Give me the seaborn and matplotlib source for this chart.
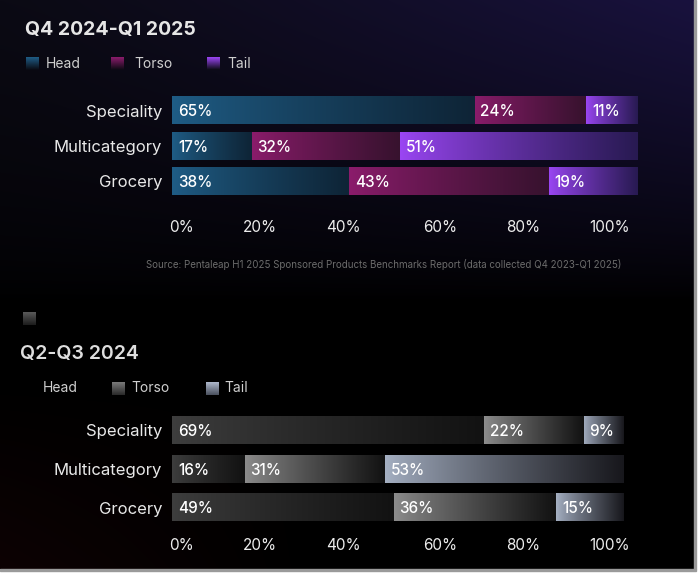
import numpy as np
import pandas as pd
import matplotlib
matplotlib.use("Agg")
import matplotlib.pyplot as plt
import seaborn as sns
from matplotlib.colors import to_rgb
from matplotlib.patches import Rectangle

# ---------------- data ----------------
categories = ["Speciality", "Multicategory", "Grocery"]
segments = ["Head", "Torso", "Tail"]
recent_head = [65, 17, 38]
recent_torso = [24, 32, 43]
recent_tail = [11, 51, 19]
prior_head = [69, 16, 49]
prior_torso = [22, 31, 36]
prior_tail = [9, 53, 15]
tick_labels = ["0%", "20%", "40%", "60%", "80%", "100%"]
title_recent = "Q4 2024-Q1 2025"
title_prior = "Q2-Q3 2024"
source_note = ("Source: Pentaleap H1 2025 Sponsored Products Benchmarks Report "
               "(data collected Q4 2023-Q1 2025)")

# ---------------- style ----------------
W, H = 698, 574
sns.set_theme(style="white")
plt.rcParams['font.family'] = ['Inter', 'DejaVu Sans']

recent_grads = [("#1f5d86", "#0e2436"), ("#8c1c6c", "#37122e"), ("#9b46f4", "#281a52")]
prior_grads = [("#3e3e3e", "#121212"), ("#8e8e8e", "#121212"), ("#a6b1c4", "#17171c")]

fig = plt.figure(figsize=(W / 100, H / 100), dpi=100)
fig.patch.set_facecolor("white")

# background panel with soft glows
bw, bh = 694, 569
xx = np.linspace(0, 1, bw)[None, :]
yp = np.arange(bh)[:, None].astype(float)
top = np.clip(1 - yp / 300.0, 0, 1)
base = np.array([11, 10, 20]) / 255
purple = np.array([14, 8, 42]) / 255
red = np.array([13, 2, 3]) / 255
img = (base[None, None, :] * (top ** 0.6)[..., None]
       + purple[None, None, :] * ((xx ** 1.2) * top ** 0.9)[..., None]
       + red[None, None, :] * (np.clip(1 - xx * 2.2, 0, 1) * np.clip((yp - 380) / 189, 0, 1))[..., None])
img = np.clip(img, 0, 1)
bg = fig.add_axes([0, (H - bh) / H, bw / W, bh / H], zorder=-10)
bg.imshow(img, aspect="auto", interpolation="bilinear")
bg.axis("off")
fig.patches.append(Rectangle((bw / W, (H - bh) / H), 2 / W, bh / H, transform=fig.transFigure,
                             color="#9a9a9a", zorder=-5))
fig.patches.append(Rectangle((0, (H - bh - 2) / H), (bw + 2) / W, 2 / H, transform=fig.transFigure,
                             color="#9a9a9a", zorder=-5))

# overlay for titles / legends in pixel coords
ov = fig.add_axes([0, 0, 1, 1], zorder=5)
ov.set_xlim(0, W)
ov.set_ylim(H, 0)
ov.axis("off")
ov.patch.set_alpha(0)


def hgrad(c0, c1, n=256, power=0.85):
    g = np.linspace(0, 1, n) ** power
    a, b = np.array(to_rgb(c0)), np.array(to_rgb(c1))
    return (a[None, :] * (1 - g[:, None]) + b[None, :] * g[:, None])[None, :, :]


def vswatch(ax, x0, y0, size, c0, c1):
    arr = np.transpose(hgrad(c0, c1, 64, 1.0), (1, 0, 2))
    ax.imshow(arr, extent=[x0, x0 + size, y0 + size, y0], aspect="auto",
              interpolation="bilinear", zorder=6)


def draw_stacked(ax, values, grads, bar_w, xpad, px_per_unit):
    vals = np.array(values, dtype=float)
    cums = np.cumsum(vals, axis=0)
    order = list(reversed(range(len(values))))
    for k in order:
        sns.barplot(x=cums[k], y=categories, orient="h", ax=ax, width=bar_w,
                    color=grads[k][1], saturation=1, linewidth=0)
    patches = list(ax.patches)
    for idx, k in enumerate(order):
        for p in patches[idx * len(categories):(idx + 1) * len(categories)]:
            i = int(round(p.get_y() + p.get_height() / 2))
            left = cums[k - 1][i] if k > 0 else 0.0
            right = cums[k][i]
            y0, h = p.get_y(), p.get_height()
            ax.imshow(hgrad(*grads[k]), extent=[left, right, y0 + h, y0], aspect="auto",
                      interpolation="bilinear", zorder=3)
            ax.text(left + 6 / px_per_unit, i + 0.03, f"{int(vals[k][i])}%", ha="left",
                    va="center", color="white", fontsize=11, fontweight="medium", zorder=4)
    ax.set_xlim(0, 100)
    ax.set_ylim(len(categories) - 0.5, -0.5)
    tick_px = [182, 260, 343, 440, 523, 610]
    ax.set_xticks([(tp - 172) / px_per_unit for tp in tick_px])
    ax.set_xticklabels(tick_labels, color="#ececec", fontsize=11)
    ax.tick_params(axis="x", length=0, pad=xpad)
    ax.set_yticks(range(len(categories)))
    ax.set_yticklabels(categories, color="#e8e8e8", fontsize=12)
    ax.tick_params(axis="y", length=0, pad=7)
    ax.set_xlabel("")
    ax.set_ylabel("")
    ax.patch.set_alpha(0)
    ax.grid(False)
    for s in ax.spines.values():
        s.set_visible(False)


# ---------------- top chart ----------------
ax1 = fig.add_axes([172 / W, 1 - 199 / H, 465 / W, 106 / H])
draw_stacked(ax1, [recent_head, recent_torso, recent_tail], recent_grads, 0.77, 15, 4.65)

ov.text(25, 35, title_recent, color="#e6e6e6", fontsize=14, fontweight="bold", va="baseline")
leg_top = [(26, 46), (111, 134), (207, 227)]
for (sx, tx), name, (c0, c1) in zip(leg_top, segments, recent_grads):
    vswatch(ov, sx, 57, 13, c0, "#0a0a12")
    ov.text(tx, 68, name, color="#cfcfcf", fontsize=10, va="baseline")
ov.text(146, 268, source_note, color="#6c6c6c", fontsize=7, va="baseline")

# ---------------- bottom chart ----------------
ax2 = fig.add_axes([172 / W, 1 - 527 / H, 452 / W, 116 / H])
draw_stacked(ax2, [prior_head, prior_torso, prior_tail], prior_grads, 0.70, 8, 4.52)

vswatch(ov, 23, 313, 12.5, "#5a5a5a", "#1c1c1c")
ov.text(20, 359, title_prior, color="#dedede", fontsize=14, fontweight="semibold", va="baseline")
ov.text(43, 392, segments[0], color="#cfcfcf", fontsize=10, va="baseline")
vswatch(ov, 112, 382, 13, "#7a7a7a", "#2a2a2a")
ov.text(131, 392, segments[1], color="#cfcfcf", fontsize=10, va="baseline")
vswatch(ov, 206, 382, 13, "#aeb8cb", "#4a505e")
ov.text(224, 392, segments[2], color="#cfcfcf", fontsize=10, va="baseline")

fig.savefig("out.png", dpi=100, facecolor=fig.get_facecolor())
